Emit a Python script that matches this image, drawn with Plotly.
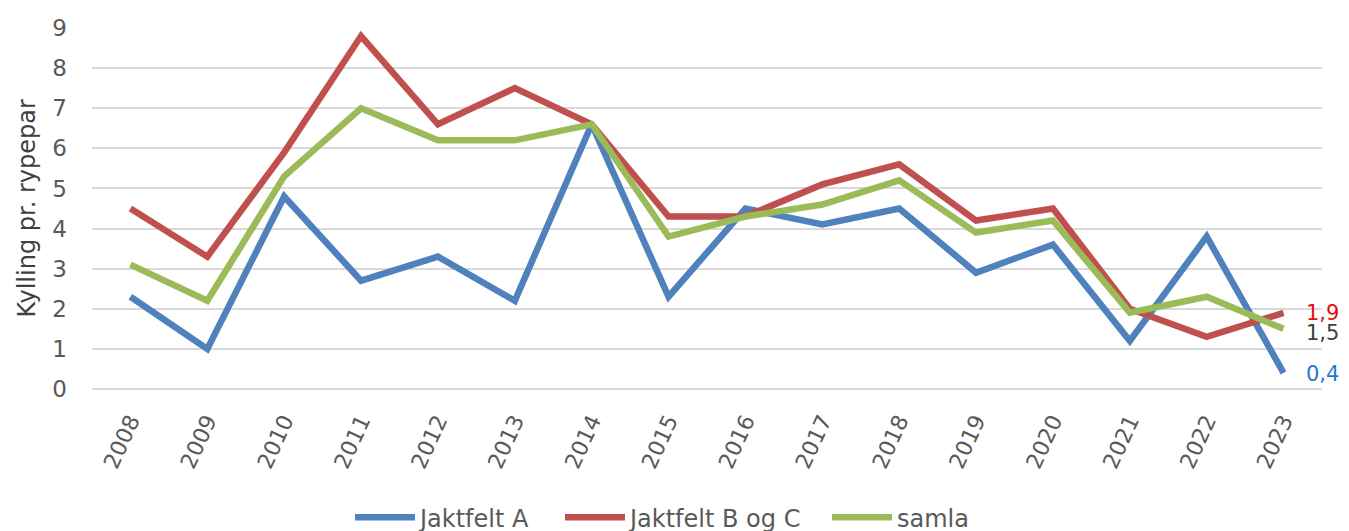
import plotly.graph_objects as go

years = [str(y) for y in range(2008, 2024)]
jaktfelt_a = [2.3, 1.0, 4.8, 2.7, 3.3, 2.2, 6.6, 2.3, 4.5, 4.1, 4.5, 2.9, 3.6, 1.2, 3.8, 0.4]
jaktfelt_bc = [4.5, 3.3, 5.9, 8.8, 6.6, 7.5, 6.6, 4.3, 4.3, 5.1, 5.6, 4.2, 4.5, 2.0, 1.3, 1.9]
samla = [3.1, 2.2, 5.3, 7.0, 6.2, 6.2, 6.6, 3.8, 4.3, 4.6, 5.2, 3.9, 4.2, 1.9, 2.3, 1.5]
y_ticks = list(range(0, 10))

series_names = ["Jaktfelt A", "Jaktfelt B og C", "samla"]
series_values = [jaktfelt_a, jaktfelt_bc, samla]
colors = ["#4f81bd", "#c0504d", "#9bbb59"]
label_colors = ["#1f7ad0", "#e01010", "#404040"]
label_yshift = [-1, 0, -4]
legend_ids = ["legend", "legend2", "legend3"]
legend_left_px = [342, 552, 819]

FONT = "'DejaVu Sans', Verdana, sans-serif"

fig = go.Figure()
for name, vals, col, lid in zip(series_names, series_values, colors, legend_ids):
    fig.add_trace(go.Scatter(
        x=years, y=vals, name=name, mode="lines", legend=lid,
        line=dict(color=col, width=6.5), cliponaxis=False,
    ))

last_idx = len(years) - 1
for vals, lc, ys in zip(series_values, label_colors, label_yshift):
    fig.add_annotation(
        x=last_idx, y=vals[-1], text=f"{vals[-1]:.1f}".replace(".", ","),
        showarrow=False, xanchor="left", xshift=20, yshift=ys,
        font=dict(family=FONT, size=21, color=lc),
    )

fig.add_annotation(
    xref="paper", yref="paper", x=-66 / 1230, y=0.5,
    text="Kylling pr. rypepar", textangle=-90, showarrow=False,
    xanchor="center", yanchor="middle",
    font=dict(family=FONT, size=24, color="#404040"),
)

legend_common = dict(orientation="h", xref="container", yref="container",
                     xanchor="left", y=0.04, yanchor="middle",
                     font=dict(family=FONT, size=24, color="#595959"),
                     itemwidth=60, bgcolor="rgba(0,0,0,0)")

fig.update_layout(
    width=1349, height=531,
    margin=dict(l=84, r=35, t=20, b=150),
    paper_bgcolor="white", plot_bgcolor="white",
    font=dict(family=FONT, color="#595959", size=22),
    showlegend=True,
    legend=dict(x=legend_left_px[0] / 1349, **legend_common),
    legend2=dict(x=legend_left_px[1] / 1349, **legend_common),
    legend3=dict(x=legend_left_px[2] / 1349, **legend_common),
    xaxis=dict(type="category", range=[-0.5, 15.5], tickangle=-65,
               showgrid=False, showline=False, ticks="", automargin=False,
               ticklabelstandoff=14,
               tickfont=dict(family=FONT, size=22, color="#595959")),
    yaxis=dict(range=[0, 9], tickvals=y_ticks, showgrid=True, gridcolor="#d9d9d9",
               gridwidth=2, zeroline=True, zerolinecolor="#d9d9d9", zerolinewidth=2,
               showline=False, ticks="", ticklabelstandoff=24, automargin=False,
               tickfont=dict(family=FONT, size=23, color="#595959")),
)

fig.write_html("out.html")
